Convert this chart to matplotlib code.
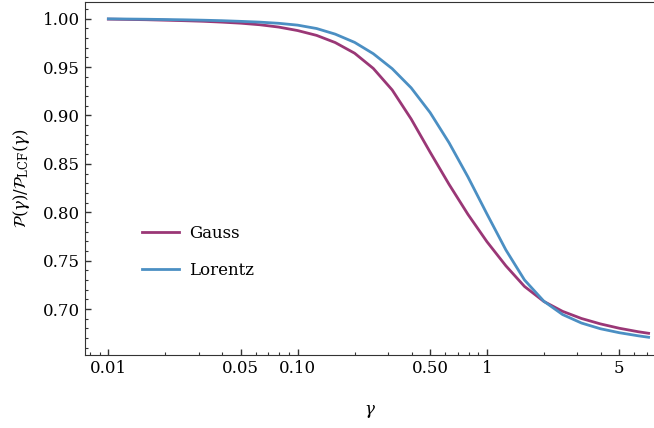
import matplotlib
matplotlib.use('Agg')
import matplotlib.pyplot as plt
from matplotlib.ticker import FixedLocator, FixedFormatter, MultipleLocator, LogLocator, NullFormatter

# values (x on a 1/10-decade grid)
gamma = [0.01, 0.0126, 0.0158, 0.02, 0.0251, 0.0316, 0.0398, 0.0501, 0.0631, 0.0794,
         0.1, 0.126, 0.158, 0.2, 0.251, 0.316, 0.398, 0.501, 0.631, 0.794,
         1.0, 1.26, 1.58, 2.0, 2.51, 3.16, 3.98, 5.01, 6.31, 7.15]
gauss = [0.9995, 0.9992, 0.9989, 0.9984, 0.9979, 0.9973, 0.9964, 0.9953, 0.9937, 0.9913,
         0.9877, 0.9827, 0.9753, 0.9643, 0.9486, 0.9263, 0.8963, 0.8621, 0.8288, 0.7978,
         0.7696, 0.7446, 0.7233, 0.7078, 0.6976, 0.6902, 0.6846, 0.6801, 0.6765, 0.6749]
lorentz = [0.9998, 0.9996, 0.9994, 0.9991, 0.9988, 0.9984, 0.9979, 0.9972, 0.9964, 0.9952,
           0.9933, 0.9898, 0.9840, 0.9755, 0.9638, 0.9483, 0.9285, 0.9030, 0.8718, 0.8365,
           0.7983, 0.7610, 0.7300, 0.7080, 0.6943, 0.6855, 0.6796, 0.6755, 0.6723, 0.6708]

xticks = [0.01, 0.05, 0.1, 0.5, 1, 5]
xticklabels = ['0.01', '0.05', '0.10', '0.50', '1', '5']

plt.rcParams['font.family'] = ['DejaVu Serif']
plt.rcParams['mathtext.fontset'] = 'dejavuserif'
plt.rcParams['font.size'] = 12

fig = plt.figure(figsize=(6.54, 4.28), dpi=100)
ax = fig.add_axes([0.130, 0.1706, 0.870, 0.8254])

ax.plot(gamma, gauss, color='#9a3776', lw=2.0, label='Gauss')
ax.plot(gamma, lorentz, color='#4b8fc3', lw=2.0, label='Lorentz')

ax.set_xscale('log')
ax.set_xlim(0.00753, 7.635)
ax.set_ylim(0.6525, 1.0175)

ax.xaxis.set_major_locator(FixedLocator(xticks))
ax.xaxis.set_major_formatter(FixedFormatter(xticklabels))
ax.xaxis.set_minor_locator(LogLocator(base=10, subs=range(2, 10)))
ax.xaxis.set_minor_formatter(NullFormatter())
ax.yaxis.set_major_locator(MultipleLocator(0.05))
ax.yaxis.set_minor_locator(MultipleLocator(0.01))
ax.yaxis.set_major_formatter(plt.FormatStrFormatter('%.2f'))

ax.tick_params(which='both', direction='in', top=False, right=False, color='#333333')
ax.tick_params(which='major', length=4, width=1)
ax.tick_params(which='minor', length=2.5, width=0.8)
for s in ['left', 'bottom', 'top']:
    ax.spines[s].set_color('#333333')
ax.spines['right'].set_visible(False)

ax.set_xlabel(r'$\gamma$', labelpad=19)
ax.set_ylabel(r'$\mathcal{P}(\gamma)/\mathcal{P}_{\rm LCF}(\gamma)$', labelpad=8)

ax.legend(loc='upper left', bbox_to_anchor=(0.074, 0.41), frameon=False,
          handlelength=2.2, handletextpad=0.6, labelspacing=1.2, borderpad=0.4)

plt.savefig('out.png', dpi=100)
